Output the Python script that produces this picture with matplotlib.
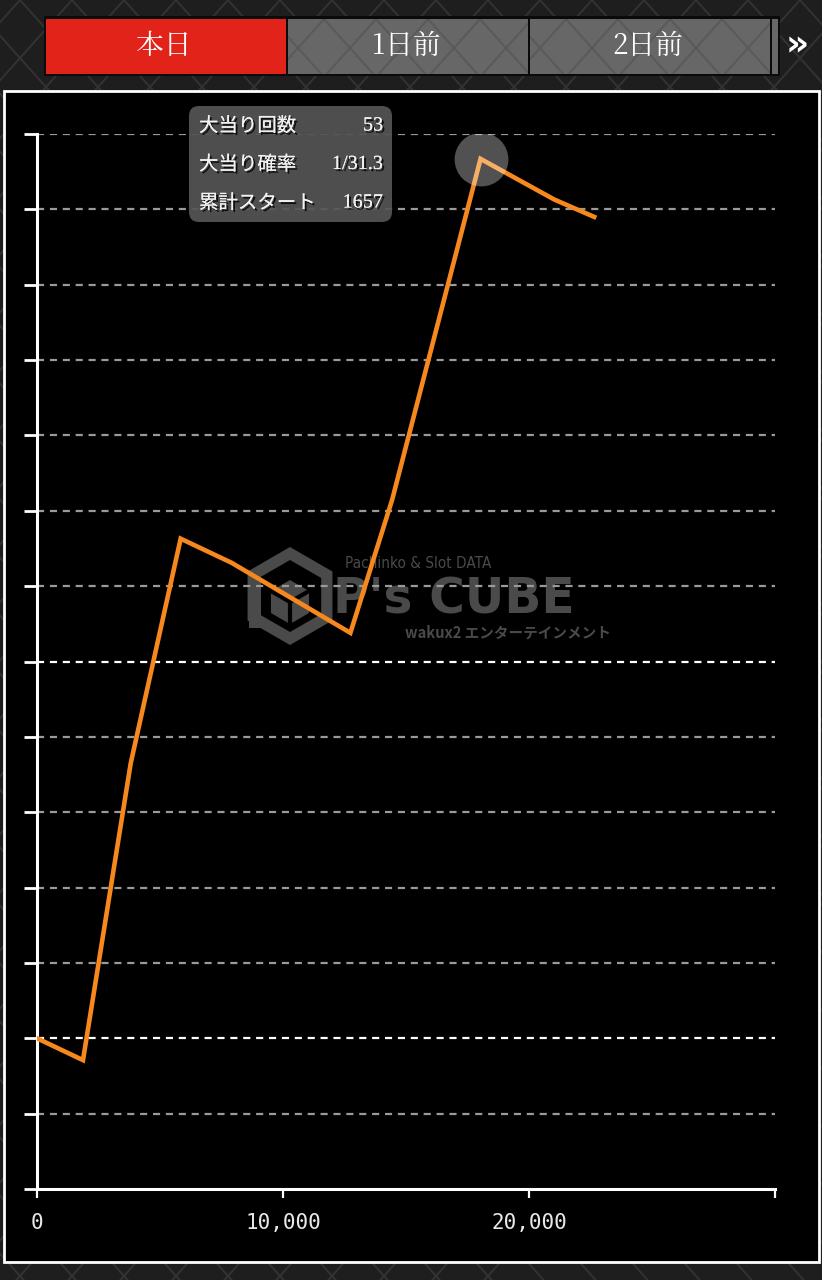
import numpy as np
import matplotlib
matplotlib.use('Agg')
import matplotlib.pyplot as plt
from matplotlib.patches import Rectangle, FancyBboxPatch, Polygon
import matplotlib.patheffects as pe

plt.rcParams['font.family'] = ['Noto Sans CJK JP', 'DejaVu Sans']

# data (games vs. ball difference)
games = [0, 1870, 3810, 5840, 7910, 12740, 14440, 18030, 21030, 22650]
balls = [0, -290, 3650, 6630, 6310, 5380, 7150, 11670, 11130, 10900]
x_ticks = [0, 10000, 20000, 30000]
x_labels = ['0', '10,000', '20,000', '']
y_ticks = list(range(-2000, 12001, 1000))
bright_lines = [0, 5000]
tabs = ['本日', '1日前', '2日前']
info_keys = ['大当り回数', '大当り確率', '累計スタート']
info_vals = ['53', '1/31.3', '1657']

W, H = 822, 1280
fig = plt.figure(figsize=(W / 100, H / 100), dpi=100, facecolor='#1e1e1e')

# background layer in pixel coords
bg = fig.add_axes([0, 0, 1, 1], zorder=0)
bg.set_xlim(0, W)
bg.set_ylim(H, 0)
bg.axis('off')

cw, ch = 52, 58
for c in np.arange(-W * 2, W * 2, cw):
    bg.plot([c, c + H * cw / ch], [0, H], color='#333333', lw=1.4, zorder=0)
    bg.plot([c, c - H * cw / ch], [0, H], color='#333333', lw=1.4, zorder=0)

# tab bar
bg.add_patch(Rectangle((44, 16), 736, 60, fc='#0a0a0a', ec='none', zorder=2))
tab_x = [46, 288, 530]
for i, (tx, name) in enumerate(zip(tab_x, tabs)):
    fc = '#e2231a' if i == 0 else '#676767'
    r = Rectangle((tx, 19), 240, 55, fc=fc, ec='none', zorder=3)
    bg.add_patch(r)
    if i > 0:
        for c in np.arange(tx - 120, tx + 300, cw):
            for s in (1, -1):
                ln, = bg.plot([c, c + s * 60 * cw / ch], [19, 79], color='#5a5a5a', lw=1.5, zorder=4)
                ln.set_clip_path(r)
    bg.text(tx + 118, 46, name, color='white', fontsize=20, ha='center', va='center', zorder=5,
            family=['Noto Serif CJK JP', 'Liberation Serif', 'Noto Sans CJK JP'])
bg.add_patch(Rectangle((772, 19), 6, 55, fc='#676767', ec='none', zorder=3))
bg.text(797, 45, '»', color='white', fontsize=26, fontweight='bold', ha='center', va='center', zorder=5,
        family='DejaVu Sans')

# chart panel
bg.add_patch(Rectangle((4, 91), 815, 1171, fc='black', ec='white', lw=2, zorder=2))

# watermark
cx, cy, R = 290, 596, 49
ang = np.radians([90, 30, -30, -90, -150, 150])
hexo = np.c_[cx + R * np.cos(ang), cy - R * np.sin(ang)]
hexi = np.c_[cx + 36 * np.cos(ang), cy - 36 * np.sin(ang)]
hexs = np.c_[cx + 22 * np.cos(ang), cy + 6 - 22 * np.sin(ang)]
bg.add_patch(Polygon(hexo, fc='#4a4a4a', ec='none', zorder=3))
bg.add_patch(Polygon(hexi, fc='black', ec='none', zorder=3))
bg.add_patch(Polygon(hexs, fc='#4a4a4a', ec='none', zorder=3))
bg.plot([cx - 19, cx, cx + 19], [cy - 5, cy + 6, cy - 5], color='black', lw=3, zorder=3)
bg.plot([cx, cx], [cy + 6, cy + 28], color='black', lw=3, zorder=3)
bg.add_patch(Rectangle((cx - 41, cy - 14), 12, 46, fc='#4a4a4a', ec='none', zorder=3))
bg.text(345, 563, 'Pachinko & Slot DATA', color='#4a4a4a', fontsize=11, ha='left', va='center',
        family='DejaVu Sans', fontstretch='condensed', zorder=3)
bg.text(333, 599, "P's CUBE", color='#4a4a4a', fontsize=35, fontweight='heavy', ha='left', va='center',
        family='DejaVu Sans', zorder=3)
bg.text(405, 633, 'wakux2 エンターテインメント', color='#4a4a4a', fontsize=10.5, ha='left', va='center',
        fontweight='bold', zorder=3)

# main chart
ax = fig.add_axes([37 / W, 1 - 1189 / H, (775 - 37) / W, (1189 - 134) / H], zorder=1)
ax.set_facecolor('none')
ax.set_xlim(0, 30000)
ax.set_ylim(-2000, 12000)

for y in y_ticks[1:]:
    col = 'white' if y in bright_lines else '#9a9a9a'
    ax.axhline(y, xmin=0, xmax=1, color=col, lw=1.6, ls=(0, (3.2, 2.6)), zorder=1)

ax.plot(games, balls, color='#f7881e', lw=3.3, solid_joinstyle='miter', zorder=3)
imax = int(np.argmax(balls))
ax.scatter(games[imax], balls[imax], s=1500, color='white', alpha=0.32, lw=0, zorder=4)

for s in ('top', 'right'):
    ax.spines[s].set_visible(False)
for s in ('left', 'bottom'):
    ax.spines[s].set_color('white')
    ax.spines[s].set_linewidth(2.2)

ax.set_yticks(y_ticks)
ax.set_yticklabels([])
ax.tick_params(axis='y', length=9.4, width=2, color='white', direction='out')
ax.set_xticks(x_ticks)
ax.set_xticklabels(x_labels, family='DejaVu Sans Mono')
ax.tick_params(axis='x', length=6.5, width=1.6, color='white', labelcolor='#e8e8e8',
               labelsize=15, pad=11)

# tooltip layer
top = fig.add_axes([0, 0, 1, 1], zorder=3)
top.set_xlim(0, W)
top.set_ylim(H, 0)
top.axis('off')
top.add_patch(FancyBboxPatch((189, 106), 203, 116, boxstyle='round,pad=0,rounding_size=10',
                             fc='#555555', ec='none', alpha=0.92))
shadow = [pe.withSimplePatchShadow(offset=(1.5, -1.5), shadow_rgbFace='black', alpha=0.8), pe.Normal()]
for k, (key, val) in enumerate(zip(info_keys, info_vals)):
    ty = 126 + k * 38.5
    top.text(199, ty, key, color='#f2f2f2', fontsize=14, ha='left', va='center', path_effects=shadow)
    top.text(383, ty, val, color='#f2f2f2', fontsize=14.5, ha='right', va='center',
             family=['Liberation Serif', 'DejaVu Serif'], path_effects=shadow)

fig.savefig('out.png', dpi=100, facecolor=fig.get_facecolor())
